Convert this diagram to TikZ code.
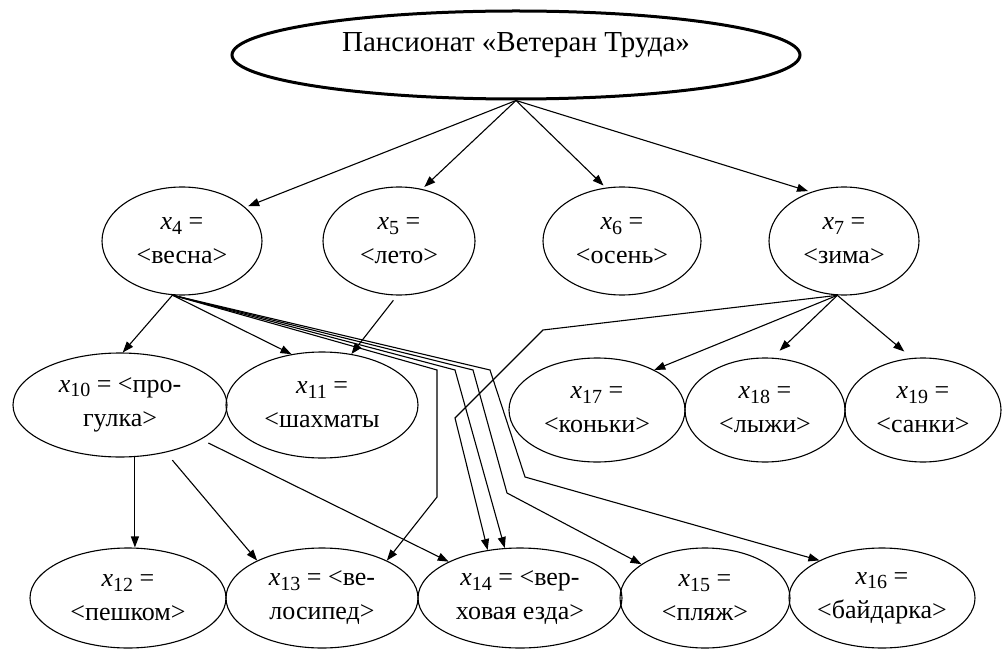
\documentclass[tikz,border=0pt]{standalone}
\usepackage{fontspec}
\setmainfont{Liberation Serif}
\usetikzlibrary{arrows.meta,shapes.geometric}
% italic x with a lowered upright index
\newcommand\xvar[1]{\textit{x}\raisebox{-0.35ex}{\fontsize{20}{20}\selectfont #1}}
\begin{document}
\begin{tikzpicture}[x=1pt,y=-1pt,
  oval/.style={ellipse,draw,line width=1.1pt,inner sep=0pt,align=center,
               font=\fontsize{26}{34}\selectfont},
  arr/.style={line width=1.1pt,-{Triangle[length=11pt,width=8pt]}}]
\useasboundingbox (0,0) rectangle (1003,652);

% root
\node[oval,line width=3pt,minimum width=568pt,minimum height=88pt] (P) at (516,55)
  {\fontsize{29}{32}\selectfont\raisebox{10pt}[\height][\depth]{Пансионат «Ветеран Труда»}};

% seasons
\node[oval,minimum width=160pt,minimum height=108pt] (x4) at (182,241) {\xvar{4} =\\<весна>};
\node[oval,minimum width=152pt,minimum height=108pt] (x5) at (399,241) {\xvar{5} =\\<лето>};
\node[oval,minimum width=158pt,minimum height=108pt] (x6) at (622,241) {\xvar{6} =\\<осень>};
\node[oval,minimum width=150pt,minimum height=108pt] (x7) at (844,241) {\xvar{7} =\\<зима>};

% third row
\node[oval,minimum width=214pt,minimum height=104pt] (x10) at (120,405) {\xvar{10} = <про-\\гулка>};
\node[oval,minimum width=192pt,minimum height=106pt] (x11) at (322,405) {\xvar{11} =\\<шахматы};
\node[oval,minimum width=176pt,minimum height=104pt] (x17) at (597,410) {\xvar{17} =\\<коньки>};
\node[oval,minimum width=160pt,minimum height=104pt] (x18) at (765,410) {\xvar{18} =\\<лыжи>};
\node[oval,minimum width=156pt,minimum height=104pt] (x19) at (923,410) {\xvar{19} =\\<санки>};

% bottom row
\node[oval,minimum width=196pt,minimum height=100pt] (x12) at (128,598) {\xvar{12} =\\<пешком>};
\node[oval,minimum width=192pt,minimum height=100pt] (x13) at (322,598) {\xvar{13} = <ве-\\лосипед>};
\node[oval,minimum width=204pt,minimum height=100pt] (x14) at (520,598) {\xvar{14} = <вер-\\ховая езда>};
\node[oval,minimum width=170pt,minimum height=100pt] (x15) at (705,598) {\xvar{15} =\\<пляж>};
\node[oval,minimum width=186pt,minimum height=100pt] (x16) at (882,598) {\xvar{16} =\\<байдарка>};

% bend points of the routed connectors
\coordinate (a1) at (437,370); \coordinate (a2) at (437,497);
\coordinate (b1) at (455,370);
\coordinate (c1) at (473,370); \coordinate (c2) at (507,493);
\coordinate (d1) at (490,370); \coordinate (d2) at (525,477);
\coordinate (z1) at (543,330); \coordinate (z2) at (455,418);

% root to seasons
\draw[arr,shorten >=3pt] (P.south) -- (x4.28);
\draw[arr,shorten >=3pt] (P.south) -- (x5.66);
\draw[arr,shorten >=3pt] (P.south) -- (x6.107);
\draw[arr,shorten >=3pt] (P.south) -- (x7.124);

% spring
\draw[arr] (x4.-100) -- (x10.87);
\draw[arr] (x4.-100) -- (x11.121);
\draw[arr] (x4.-100) -- (a1) -- (a2) -- (x13.30);
\draw[arr] (x4.-100) -- (b1) -- (x14.107);
\draw[arr] (x4.-100) -- (c1) -- (c2) -- (x15.152);
\draw[arr] (x4.-100) -- (d1) -- (d2) -- (x16.149);

% summer
\draw[arr,shorten <=6pt] (x5.-92) -- (x11.60);

% winter
\draw[arr] (x7.-97) -- (x17.35);
\draw[arr,shorten >=10pt] (x7.-97) -- (x18.82);
\draw[arr,shorten >=10pt] (x7.-97) -- (x19.102);
\draw[arr] (x7.-97) -- (z1) -- (z2) -- (x14.124);

% walk
\draw[arr] (x10.-74) -- (x10.-74 |- x12.north);
\draw[arr,shorten <=10pt] (x10.-46) -- (x13.150);
\draw[arr,shorten <=8pt] (x10.-23) -- (x14.153);
\end{tikzpicture}
\end{document}
